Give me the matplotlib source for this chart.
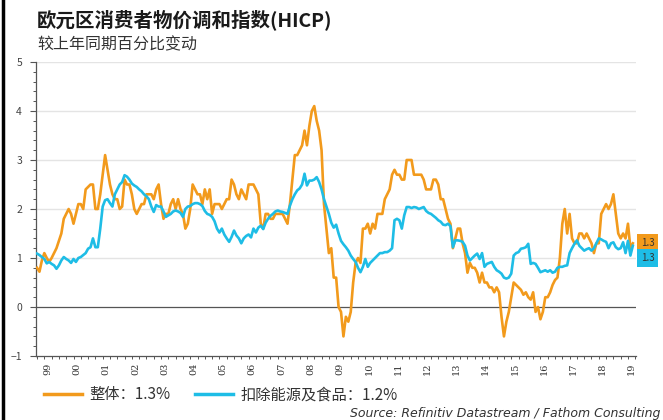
import numpy as np
import matplotlib
matplotlib.use("Agg")
import matplotlib.pyplot as plt
from matplotlib.lines import Line2D

plt.rcParams['font.family'] = ['Noto Sans CJK SC', 'DejaVu Sans']

# 整体 HICP, monthly y/y %, Jan 1999 - Jun 2019
overall = [
    0.8, 0.72, 0.95, 1.1, 1.0, 0.92, 1.0, 1.1, 1.2, 1.35, 1.5, 1.8,      # 1999
    1.9, 2.0, 1.9, 1.7, 1.9, 2.1, 2.1, 2.0, 2.4, 2.45, 2.5, 2.5,         # 2000
    2.0, 2.0, 2.3, 2.7, 3.1, 2.8, 2.5, 2.3, 2.2, 2.2, 2.0, 2.05,         # 2001
    2.6, 2.5, 2.5, 2.3, 2.0, 1.9, 2.0, 2.1, 2.1, 2.3, 2.3, 2.3,          # 2002
    2.2, 2.4, 2.5, 2.1, 1.8, 1.9, 1.9, 2.1, 2.2, 2.0, 2.2, 2.0,          # 2003
    1.9, 1.6, 1.7, 2.0, 2.5, 2.4, 2.3, 2.3, 2.1, 2.4, 2.2, 2.4,          # 2004
    1.9, 2.1, 2.1, 2.1, 2.0, 2.1, 2.2, 2.2, 2.6, 2.5, 2.3, 2.2,          # 2005
    2.4, 2.3, 2.2, 2.5, 2.5, 2.5, 2.4, 2.3, 1.7, 1.6, 1.9, 1.9,          # 2006
    1.8, 1.8, 1.9, 1.9, 1.9, 1.9, 1.8, 1.7, 2.1, 2.6, 3.1, 3.1,          # 2007
    3.2, 3.3, 3.6, 3.3, 3.7, 4.0, 4.1, 3.8, 3.6, 3.2, 2.1, 1.6,          # 2008
    1.1, 1.2, 0.6, 0.6, 0.0, -0.1, -0.6, -0.2, -0.3, -0.1, 0.5, 0.9,     # 2009
    1.0, 0.9, 1.6, 1.6, 1.7, 1.5, 1.7, 1.6, 1.9, 1.9, 1.9, 2.2,          # 2010
    2.3, 2.4, 2.7, 2.8, 2.7, 2.7, 2.6, 2.6, 3.0, 3.0, 3.0, 2.7,          # 2011
    2.7, 2.7, 2.7, 2.6, 2.4, 2.4, 2.4, 2.6, 2.6, 2.5, 2.2, 2.2,          # 2012
    2.0, 1.8, 1.7, 1.2, 1.4, 1.6, 1.6, 1.3, 1.1, 0.7, 0.9, 0.8,          # 2013
    0.8, 0.7, 0.5, 0.7, 0.5, 0.5, 0.4, 0.4, 0.3, 0.4, 0.3, -0.2,         # 2014
    -0.6, -0.3, -0.1, 0.2, 0.5, 0.45, 0.4, 0.35, 0.25, 0.3, 0.2, 0.15,   # 2015
    0.3, -0.1, 0.0, -0.25, -0.1, 0.2, 0.2, 0.3, 0.45, 0.55, 0.6, 1.0,    # 2016
    1.7, 2.0, 1.5, 1.9, 1.4, 1.3, 1.3, 1.5, 1.5, 1.4, 1.5, 1.4,          # 2017
    1.3, 1.1, 1.3, 1.3, 1.9, 2.0, 2.1, 2.0, 2.1, 2.3, 1.9, 1.5,          # 2018
    1.4, 1.5, 1.4, 1.7, 1.2, 1.3,                                        # 2019
]

# 扣除能源及食品
core = [
    1.09, 1.06, 1.02, 0.98, 0.89, 0.92, 0.88, 0.85, 0.78, 0.85, 0.95, 1.02,   # 1999
    0.98, 0.95, 0.9, 0.98, 0.92, 1.0, 1.02, 1.06, 1.1, 1.19, 1.22, 1.4,       # 2000
    1.22, 1.22, 1.6, 2.05, 2.18, 2.2, 2.12, 2.05, 2.3, 2.4, 2.5, 2.55,        # 2001
    2.69, 2.66, 2.6, 2.52, 2.48, 2.45, 2.4, 2.36, 2.3, 2.26, 2.2, 2.05,       # 2002
    1.94, 2.08, 2.05, 2.05, 1.95, 1.84, 1.87, 1.9, 1.95, 1.97, 1.95, 1.92,    # 2003
    1.84, 2.0, 2.05, 2.06, 2.1, 2.12, 2.12, 2.1, 2.06, 1.96, 1.9, 1.88,       # 2004
    1.84, 1.75, 1.6, 1.52, 1.6, 1.48, 1.4, 1.33, 1.43, 1.56, 1.46, 1.4,       # 2005
    1.3, 1.4, 1.45, 1.48, 1.42, 1.6, 1.52, 1.62, 1.66, 1.59, 1.72, 1.8,       # 2006
    1.86, 1.9, 1.95, 1.97, 1.95, 1.94, 1.92, 1.9, 2.07, 2.2, 2.3, 2.38,       # 2007
    2.42, 2.5, 2.72, 2.48, 2.58, 2.58, 2.6, 2.65, 2.55, 2.4, 2.2, 2.05,       # 2008
    1.9, 1.72, 1.62, 1.68, 1.5, 1.35, 1.28, 1.22, 1.15, 1.05, 0.98, 0.92,     # 2009
    0.8, 0.71, 0.82, 0.98, 0.82, 0.9, 0.95, 1.0, 1.05, 1.1, 1.1, 1.12,        # 2010
    1.12, 1.15, 1.2, 1.77, 1.8, 1.77, 1.6, 1.87, 2.04, 2.04, 2.02, 2.04,      # 2011
    2.03, 2.0, 2.02, 2.04, 1.96, 1.92, 1.9, 1.86, 1.82, 1.77, 1.74, 1.68,     # 2012
    1.67, 1.7, 1.65, 1.22, 1.36, 1.36, 1.35, 1.33, 1.25, 1.05, 0.95, 1.0,     # 2013
    1.05, 1.09, 0.98, 1.1, 0.82, 0.88, 0.9, 0.92, 0.82, 0.75, 0.72, 0.68,     # 2014
    0.6, 0.58, 0.6, 0.68, 1.05, 1.1, 1.12, 1.19, 1.2, 1.22, 1.29, 0.88,       # 2015
    0.9, 0.88, 0.8, 0.71, 0.73, 0.75, 0.72, 0.75, 0.7, 0.72, 0.8, 0.82,       # 2016
    0.82, 0.84, 0.85, 1.1, 1.2, 1.29, 1.36, 1.25, 1.2, 1.15, 1.18, 1.2,       # 2017
    1.15, 1.2, 1.3, 1.4, 1.38, 1.35, 1.33, 1.2, 1.3, 1.32, 1.22, 1.18,        # 2018
    1.2, 1.32, 1.1, 1.35, 1.05, 1.25,                                         # 2019
]

year_labels = ['99'] + ['%02d' % y for y in range(0, 20)]
legend_labels = ['整体：1.3%', '扣除能源及食品：1.2%']
end_labels = ['1.3', '1.3']

orange = '#F29A1C'
blue = '#1EBDE6'

t = 1999 + np.arange(len(overall)) / 12.0

fig = plt.figure(figsize=(6.63, 4.2), dpi=100)
ax = fig.add_axes([36 / 663, 1 - 356 / 420, 600 / 663, 294 / 420])

for y in range(1, 6):
    ax.axhline(y, color='#e4e4e4', lw=1.0, zorder=1)
ax.axhline(0, color='#555555', lw=0.9, zorder=2)

ax.plot(t, overall, color=orange, lw=1.9, zorder=3, solid_joinstyle='round')
ax.plot(t, core, color=blue, lw=1.9, zorder=4, solid_joinstyle='round')

ax.set_xlim(1999 - 0.035, 1999 + 246.3 / 12)
ax.set_ylim(-1, 5)

for s in ['top', 'right']:
    ax.spines[s].set_visible(False)
for s in ['left', 'bottom']:
    ax.spines[s].set_color('#555555')
    ax.spines[s].set_linewidth(0.9)

ax.set_yticks(range(-1, 6))
ax.set_yticks(np.arange(-1, 5.01, 0.2), minor=True)
ax.tick_params(axis='y', which='major', length=4, width=0.8, color='#555555',
               labelsize=7.5, labelcolor='#444444', pad=6)
ax.tick_params(axis='y', which='minor', length=2.5, width=0.7, color='#555555')

years = np.arange(1999, 2020)
ax.set_xticks(years + 0.375)
ax.set_xticklabels(year_labels, rotation=90, fontsize=7, color='#333333',
                   family=['DejaVu Serif'])
ax.set_xticks(np.arange(1999, 2019.6, 0.25), minor=True)
ax.tick_params(axis='x', which='major', length=0, pad=5)
ax.tick_params(axis='x', which='minor', length=2.5, width=0.7, color='#555555')

# end value boxes
ax.annotate(end_labels[0], xy=(1.008, overall[-1]), xycoords=('axes fraction', 'data'),
            fontsize=7, color='#333333', va='center', ha='left',
            bbox=dict(boxstyle='square,pad=0.4', fc=orange, ec='none'),
            annotation_clip=False)
ax.annotate(end_labels[1], xy=(1.008, 1.0), xycoords=('axes fraction', 'data'),
            fontsize=7, color='#333333', va='center', ha='left',
            bbox=dict(boxstyle='square,pad=0.4', fc=blue, ec='none'),
            annotation_clip=False)

fig.text(37 / 663, 1 - 20 / 420, '欧元区消费者物价调和指数(HICP)', fontsize=14,
         fontweight='bold', color='#1a1a1a', va='center', ha='left')
fig.text(37 / 663, 1 - 45 / 420, '较上年同期百分比变动', fontsize=11.5,
         color='#333333', va='center', ha='left')

handles = [Line2D([], [], color=orange, lw=2.5), Line2D([], [], color=blue, lw=2.5)]
fig.legend(handles, legend_labels, loc='center left', bbox_to_anchor=(30 / 663, 1 - 395 / 420),
           ncol=2, frameon=False, fontsize=11, handlelength=2.5, columnspacing=1.6,
           handletextpad=0.5, labelcolor='#333333')

fig.text(660 / 663, 1 - 413 / 420, 'Source: Refinitiv Datastream / Fathom Consulting',
         fontsize=9, style='italic', color='#333333', ha='right', va='center',
         family=['DejaVu Sans'])

# left frame border
fig.add_artist(Line2D([2.5 / 663, 2.5 / 663], [0, 1], color='black', lw=2.5))

fig.savefig('out.png', dpi=100)
